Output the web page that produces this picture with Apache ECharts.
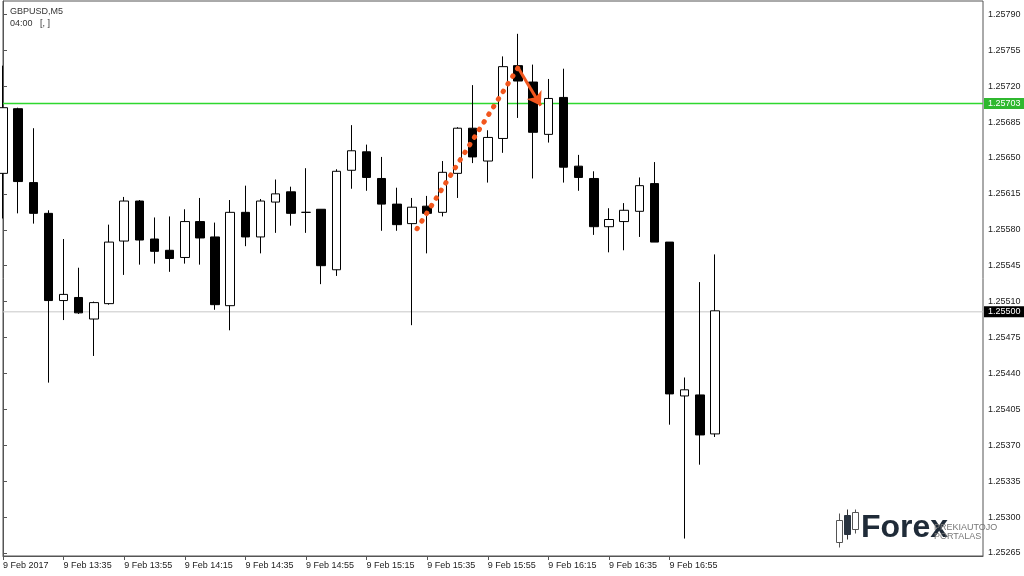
<!DOCTYPE html>
<html>
<head>
  <meta charset="utf-8"/>
  <script src="https://cdn.jsdelivr.net/npm/echarts@6/dist/echarts.min.js"></script>
  <style>
    html, body { margin: 0; padding: 0; background: #fff; }
    #chartmain { width: 1024px; height: 576px; }
  </style>
</head>
<body>
  <div id="chartmain"></div>
  <script type="text/javascript">
    // GBPUSD M5, 9 Feb 2017, bars from 13:15 onward
    var openV  = [1.25635, 1.25698, 1.25626, 1.25596, 1.25511, 1.25514, 1.25493, 1.25508, 1.25569, 1.25608,
                  1.25571, 1.25560, 1.25553, 1.25588, 1.25573, 1.25506, 1.25597, 1.25573, 1.25607, 1.25617,
                  1.25597, 1.25600, 1.25541, 1.25638, 1.25656, 1.25630, 1.25605, 1.25586, 1.25603, 1.25597,
                  1.25635, 1.25679, 1.25647, 1.25669, 1.25740, 1.25724, 1.25673, 1.25709, 1.25642, 1.25630,
                  1.25583, 1.25588, 1.25598, 1.25625, 1.25568, 1.25418, 1.25419, 1.25381];
    var closeV = [1.25699, 1.25627, 1.25596, 1.25511, 1.25517, 1.25499, 1.25509, 1.25568, 1.25608, 1.25570,
                  1.25559, 1.25552, 1.25588, 1.25572, 1.25507, 1.25597, 1.25573, 1.25608, 1.25615, 1.25596,
                  1.25597, 1.25545, 1.25637, 1.25657, 1.25631, 1.25605, 1.25585, 1.25602, 1.25596, 1.25636,
                  1.25679, 1.25651, 1.25670, 1.25739, 1.25725, 1.25675, 1.25708, 1.25641, 1.25631, 1.25583,
                  1.25590, 1.25599, 1.25623, 1.25568, 1.25420, 1.25424, 1.25380, 1.25501];
    var lowV   = [1.25591, 1.25596, 1.25586, 1.25431, 1.25492, 1.25498, 1.25457, 1.25507, 1.25536, 1.25546,
                  1.25547, 1.25539, 1.25547, 1.25546, 1.25502, 1.25482, 1.25564, 1.25557, 1.25577, 1.25584,
                  1.25577, 1.25527, 1.25535, 1.25620, 1.25618, 1.25579, 1.25579, 1.25487, 1.25557, 1.25593,
                  1.25611, 1.25645, 1.25626, 1.25655, 1.25689, 1.25630, 1.25665, 1.25626, 1.25618, 1.25575,
                  1.25558, 1.25560, 1.25573, 1.25568, 1.25390, 1.25279, 1.25351, 1.25378];
    var highV  = [1.25740, 1.25699, 1.25679, 1.25599, 1.25571, 1.25543, 1.25510, 1.25585, 1.25612, 1.25609,
                  1.25592, 1.25593, 1.25600, 1.25611, 1.25587, 1.25609, 1.25623, 1.25610, 1.25629, 1.25622,
                  1.25640, 1.25600, 1.25639, 1.25682, 1.25663, 1.25651, 1.25621, 1.25611, 1.25613, 1.25647,
                  1.25680, 1.25721, 1.25677, 1.25749, 1.25771, 1.25741, 1.25727, 1.25737, 1.25653, 1.25637,
                  1.25601, 1.25606, 1.25631, 1.25646, 1.25568, 1.25436, 1.25529, 1.25556];

    // time labels, one every 4 bars (20 minutes)
    var timeLabels = ['9 Feb 2017', '9 Feb 13:35', '9 Feb 13:55', '9 Feb 14:15', '9 Feb 14:35', '9 Feb 14:55',
                      '9 Feb 15:15', '9 Feb 15:35', '9 Feb 15:55', '9 Feb 16:15', '9 Feb 16:35', '9 Feb 16:55'];
    var labelBars = [0, 4, 8, 12, 16, 20, 24, 28, 32, 36, 40, 44];

    var priceTicks = [1.25265, 1.25300, 1.25335, 1.25370, 1.25405, 1.25440, 1.25475, 1.25510, 1.25545,
                      1.25580, 1.25615, 1.25650, 1.25685, 1.25720, 1.25755, 1.25790];

    // horizontal price lines: [price, line colour, tag colour, line width]
    var askLine = [1.25703, '#2ed82e', '#2fb82f', 1.5];
    var bidLine = [1.25500, '#c8c8c8', '#000000', 1];

    // hand-drawn annotation: dotted rise, then arrow down  [bar index, price]
    var risePts  = [[27.33, 1.25581], [34.0, 1.25738]];
    var arrowPts = [[34.0, 1.25738], [35.5, 1.25701]];

    var xMin = 0, xMax = 64.69;

    var candles = [];
    for (var i = 0; i < openV.length; i++) {
      candles.push([i, openV[i], closeV[i], lowV[i], highV[i]]);
    }

    var orange = '#f2561d';
    var font = 'Liberation Sans';

    // one flat line series per price level, tag drawn as its end label
    function levelSeries(l) {
      return {
        type: 'line',
        data: [[xMin, l[0]], [xMax, l[0]]],
        symbol: 'none',
        silent: true,
        z: 1,
        color: l[1],
        lineStyle: { color: l[1], width: l[3] },
        emphasis: { disabled: true },
        endLabel: {
          show: true,
          distance: 1,
          formatter: function () { return l[0].toFixed(5); },
          color: '#fff', fontSize: 9, fontFamily: font,
          backgroundColor: l[2], padding: [1, 4, 1, 4]
        }
      };
    }

    var option = {
      animation: false,
      textStyle: { fontFamily: font },
      title: {
        left: 5, top: 2,
        text: 'GBPUSD,M5',
        subtext: '04:00   [, ]',
        itemGap: 3,
        textStyle: { fontSize: 9, fontWeight: 'normal', color: '#333', fontFamily: font },
        subtextStyle: { fontSize: 9, color: '#333', fontFamily: font }
      },
      grid: {
        left: 3, right: 41, top: 1, bottom: 20,
        show: true, borderColor: '#555', borderWidth: 1, backgroundColor: '#fff'
      },
      xAxis: {
        type: 'value',
        min: xMin,
        max: xMax,
        splitLine: { show: false },
        axisLine: { show: true, onZero: false, lineStyle: { color: '#555' } },
        axisTick: { show: true, length: 4, customValues: labelBars, lineStyle: { color: '#555' } },
        axisLabel: {
          customValues: labelBars,
          align: 'left',
          margin: 5,
          fontSize: 9,
          color: '#222',
          formatter: function (v) { return timeLabels[Math.round(v / 4)] || ''; }
        }
      },
      yAxis: {
        type: 'value',
        position: 'right',
        min: 1.25262,
        max: 1.25803,
        splitLine: { show: false },
        axisLine: { show: true, lineStyle: { color: '#555' } },
        axisTick: { show: true, length: 4, customValues: priceTicks, lineStyle: { color: '#555' } },
        axisLabel: {
          customValues: priceTicks,
          margin: 5,
          fontSize: 9,
          color: '#222',
          formatter: function (v) { return v.toFixed(5); }
        }
      },
      series: [
        levelSeries(askLine),
        levelSeries(bidLine),
        {
          type: 'candlestick',
          data: candles,
          barWidth: 9,
          clip: true,
          silent: true,
          z: 3,
          itemStyle: {
            color: '#ffffff', color0: '#000000',
            borderColor: '#000000', borderColor0: '#000000',
            borderWidth: 1
          }
        },
        {
          type: 'line',
          data: risePts,
          symbol: 'none',
          silent: true,
          z: 5,
          color: orange,
          lineStyle: { color: orange, width: 5, type: [0.5, 8.5], cap: 'round' },
          markLine: {
            silent: true,
            animation: false,
            symbol: ['none', 'arrow'],
            symbolSize: 13,
            label: { show: false },
            lineStyle: { color: orange, width: 3, type: 'solid' },
            data: [[{ coord: arrowPts[0] }, { coord: arrowPts[1] }]]
          }
        }
      ],
      graphic: [
        {
          type: 'group', left: 836, top: 507,
          children: [
            { type: 'line', shape: { x1: 3, y1: 4, x2: 3, y2: 38 }, style: { stroke: '#555', lineWidth: 1 } },
            { type: 'rect', shape: { x: 0, y: 11, width: 6, height: 22 }, style: { fill: '#fff', stroke: '#555', lineWidth: 1 } },
            { type: 'line', shape: { x1: 11, y1: 0, x2: 11, y2: 30 }, style: { stroke: '#333', lineWidth: 1 } },
            { type: 'rect', shape: { x: 8, y: 6, width: 6, height: 19 }, style: { fill: '#2a3440', stroke: '#2a3440', lineWidth: 1 } },
            { type: 'line', shape: { x1: 19, y1: 0, x2: 19, y2: 24 }, style: { stroke: '#555', lineWidth: 1 } },
            { type: 'rect', shape: { x: 16, y: 3, width: 6, height: 17 }, style: { fill: '#fff', stroke: '#555', lineWidth: 1 } }
          ]
        },
        {
          type: 'text', left: 861, top: 512,
          style: { text: 'Forex', font: 'bold 32px "Liberation Sans"', fill: '#1f2b38' }
        },
        {
          type: 'text', left: 934, top: 523,
          style: { text: 'PREKIAUTOJO', font: '9px "Liberation Sans"', fill: '#777' }
        },
        {
          type: 'text', left: 934, top: 532,
          style: { text: 'PORTALAS', font: '9px "Liberation Sans"', fill: '#777' }
        }
      ]
    };

    var myChart = echarts.init(document.getElementById('chartmain'));
    myChart.setOption(option);
  </script>
</body>
</html>
